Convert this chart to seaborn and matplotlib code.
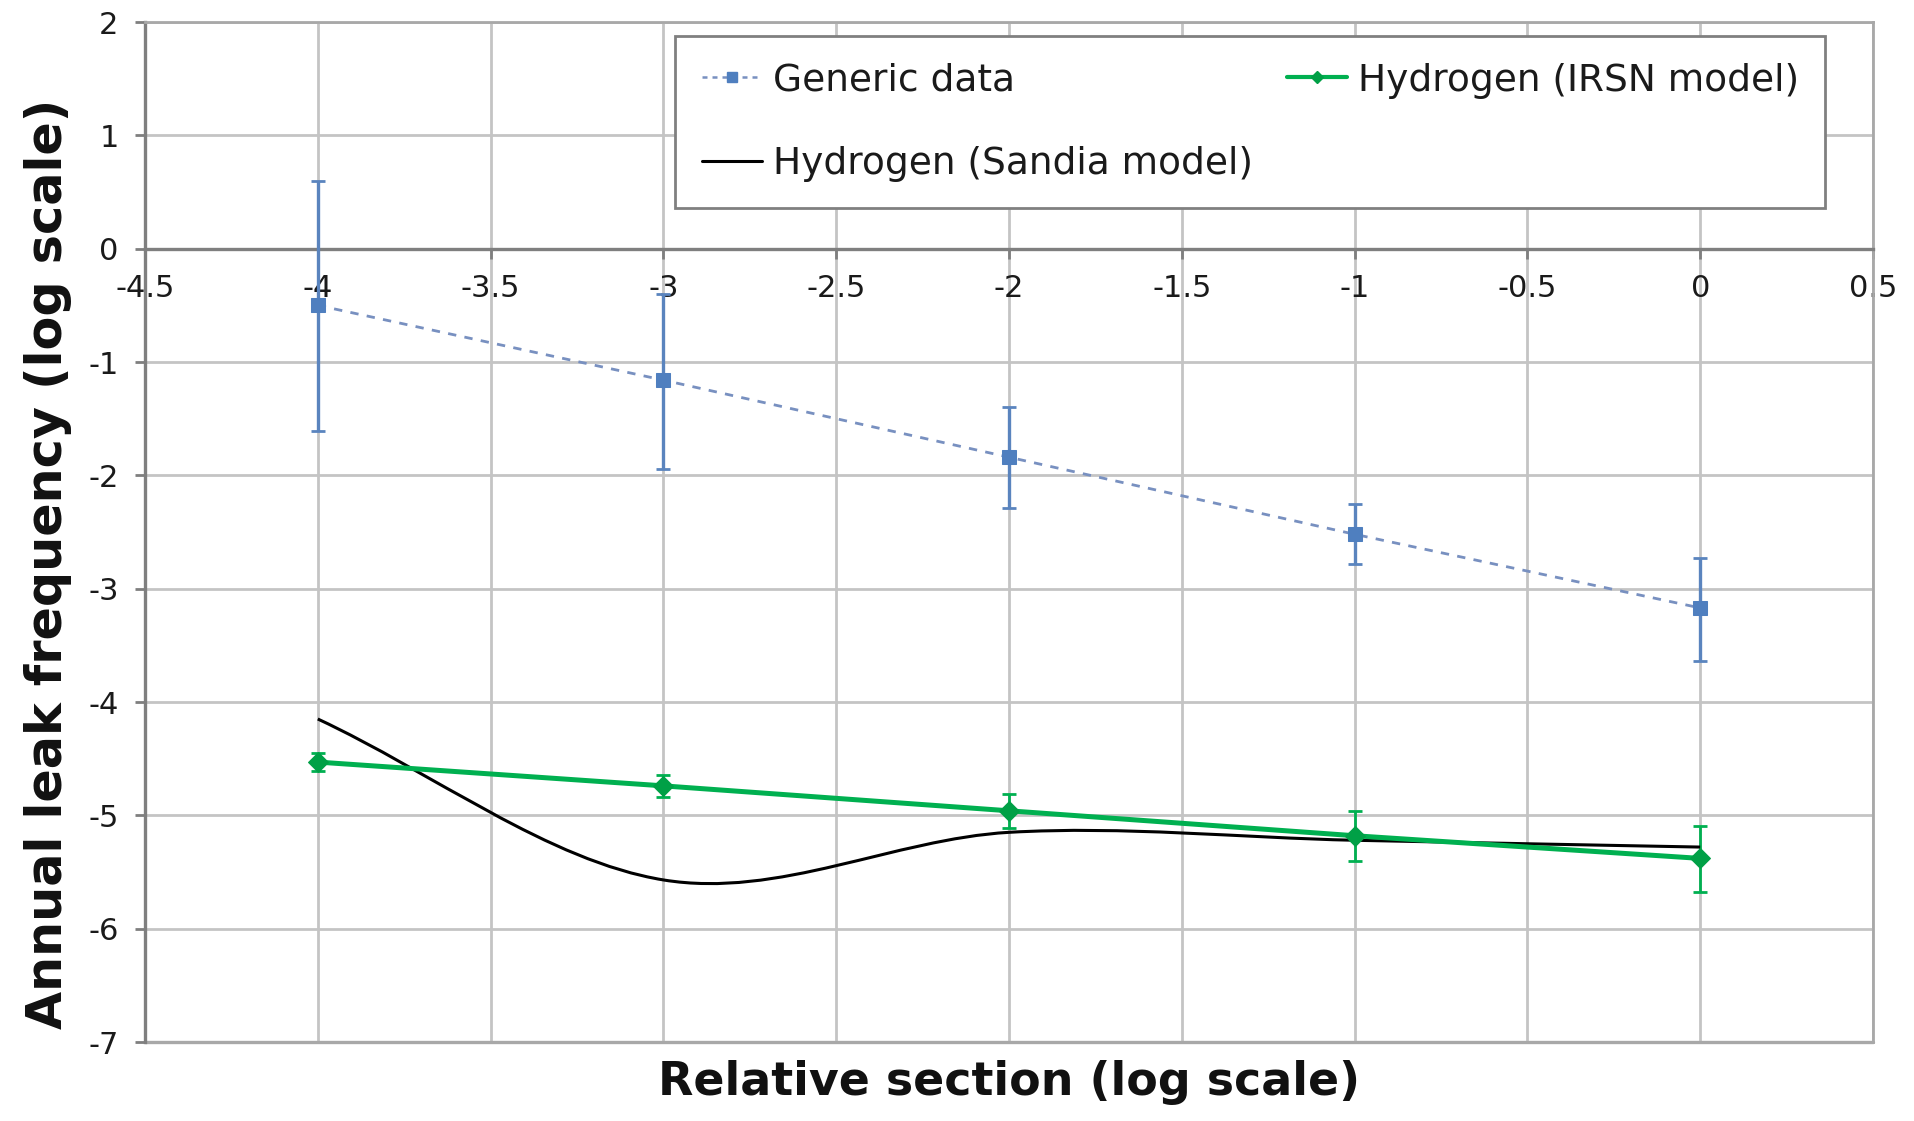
import numpy as np
import pandas as pd
import matplotlib
matplotlib.use("Agg")
import matplotlib.pyplot as plt
import seaborn as sns
from matplotlib.path import Path
from matplotlib.patches import PathPatch
from matplotlib.lines import Line2D

# ---------------- data ----------------
x_section = [-4, -3, -2, -1, 0]

generic_y = [-0.50, -1.16, -1.84, -2.52, -3.17]
generic_lo = [-1.61, -1.94, -2.29, -2.78, -3.64]
generic_hi = [0.60, -0.40, -1.40, -2.25, -2.73]

irsn_y = [-4.53, -4.74, -4.96, -5.18, -5.38]
irsn_lo = [-4.61, -4.84, -5.11, -5.40, -5.68]
irsn_hi = [-4.45, -4.64, -4.81, -4.96, -5.09]

sandia_y = [-4.15, -5.57, -5.15, -5.22, -5.28]

x_ticks = [-4.5, -4, -3.5, -3, -2.5, -2, -1.5, -1, -0.5, 0, 0.5]
x_ticklabels = ["-4.5", "-4", "-3.5", "-3", "-2.5", "-2", "-1.5", "-1", "-0.5", "0", "0.5"]
y_ticks = [2, 1, 0, -1, -2, -3, -4, -5, -6, -7]

labels = ["Generic data", "Hydrogen (IRSN model)", "Hydrogen (Sandia model)"]
x_label = "Relative section (log scale)"
y_label = "Annual leak frequency (log scale)"

# ---------------- style ----------------
sns.set_theme(style="white")
plt.rcParams["font.family"] = ["DejaVu Sans"]

blue = "#4F7FBF"
blue_err = "#5A84BE"
blue_line = "#7890C0"
green = "#00B050"
green_dark = "#00A046"
grid_c = "#C4C4C4"
axis_c = "#7F7F7F"

fig = plt.figure(figsize=(19.14, 11.21), dpi=100)
ax = fig.add_axes([145 / 1914, 1 - 1042 / 1121, 1728 / 1914, 1020 / 1121])

df_g = pd.DataFrame({"x": x_section, "y": generic_y})
df_i = pd.DataFrame({"x": x_section, "y": irsn_y})

# generic data
ax.errorbar(x_section, generic_y,
            yerr=[np.array(generic_y) - np.array(generic_lo),
                  np.array(generic_hi) - np.array(generic_y)],
            fmt="none", ecolor=blue_err, elinewidth=2.4, capsize=5, capthick=2.0, zorder=3)
sns.lineplot(data=df_g, x="x", y="y", ax=ax, color=blue_line, linestyle=(0, (3, 3)),
             linewidth=2.0, marker="s", markersize=10, markerfacecolor=blue,
             markeredgecolor=blue, legend=False, errorbar=None, zorder=4)

# IRSN model
ax.errorbar(x_section, irsn_y,
            yerr=[np.array(irsn_y) - np.array(irsn_lo),
                  np.array(irsn_hi) - np.array(irsn_y)],
            fmt="none", ecolor=green, elinewidth=2.0, capsize=5, capthick=2.0, zorder=3)
sns.lineplot(data=df_i, x="x", y="y", ax=ax, color=green, linewidth=3.6,
             marker="D", markersize=10, markerfacecolor=green_dark,
             markeredgecolor=green_dark, legend=False, errorbar=None, zorder=5)

# Sandia model: smoothed line (Catmull-Rom style Bezier through the data points)
px = np.array(x_section, dtype=float)
py = np.array(sandia_y, dtype=float)
n = len(px)
mx = np.zeros(n)
my = np.zeros(n)
for i in range(n):
    if i == 0:
        mx[i], my[i] = px[1] - px[0], py[1] - py[0]
    elif i == n - 1:
        mx[i], my[i] = px[-1] - px[-2], py[-1] - py[-2]
    else:
        mx[i], my[i] = (px[i + 1] - px[i - 1]) / 2, (py[i + 1] - py[i - 1]) / 2
verts = [(px[0], py[0])]
codes = [Path.MOVETO]
for i in range(n - 1):
    verts += [(px[i] + mx[i] / 3, py[i] + my[i] / 3),
              (px[i + 1] - mx[i + 1] / 3, py[i + 1] - my[i + 1] / 3),
              (px[i + 1], py[i + 1])]
    codes += [Path.CURVE4] * 3
ax.add_patch(PathPatch(Path(verts, codes), facecolor="none", edgecolor="black",
                       linewidth=2.2, zorder=4.5))

# ---------------- axes ----------------
ax.set_xlim(-4.5, 0.5)
ax.set_ylim(-7, 2)
ax.set_xticks(x_ticks)
ax.set_xticklabels(x_ticklabels)
ax.set_yticks(y_ticks)
ax.set_yticklabels([str(v) for v in y_ticks])

ax.grid(True, color=grid_c, linewidth=2.0)
ax.set_axisbelow(True)

ax.spines["bottom"].set_position(("data", 0))
for s in ["bottom", "left"]:
    ax.spines[s].set_color(axis_c)
    ax.spines[s].set_linewidth(2.4)
for s in ["top", "right"]:
    ax.spines[s].set_color("#A8A8A8")
    ax.spines[s].set_linewidth(2.0)
ax.axhline(-7, color="#A8A8A8", linewidth=2.4, clip_on=False, zorder=1)

ax.tick_params(axis="x", direction="out", length=7, width=2, color=axis_c,
               labelsize=22, pad=11, bottom=True, labelcolor="#1a1a1a")
ax.tick_params(axis="y", direction="out", length=7, width=2, color=axis_c,
               labelsize=22, pad=12, left=True, labelcolor="#1a1a1a")

ax.set_xlabel(x_label, fontsize=33, fontweight="bold", color="#111111")
ax.xaxis.set_label_coords(0.5, -0.018)
ax.set_ylabel(y_label, fontsize=35.5, fontweight="bold", color="#111111")
ax.yaxis.set_label_coords(-0.042, 0.469)

# ---------------- legend ----------------
h_generic = Line2D([], [], color=blue_line, linestyle=(0, (2, 2)), linewidth=1.8,
                   marker="s", markersize=7, markerfacecolor=blue, markeredgecolor=blue)
h_irsn = Line2D([], [], color=green, linewidth=3.0, marker="D", markersize=6,
                markerfacecolor=green_dark, markeredgecolor=green_dark)
h_sandia = Line2D([], [], color="black", linewidth=2.2)
leg = ax.legend([h_generic, h_sandia, h_irsn], [labels[0], labels[2], labels[1]],
                ncol=2, loc="upper left", bbox_to_anchor=(0.307, 0.986),
                borderaxespad=0, fontsize=27, handlelength=1.6, handletextpad=0.3,
                columnspacing=0.9, labelspacing=1.27, borderpad=0.7,
                frameon=True, fancybox=False, shadow=False, framealpha=1)
leg.get_frame().set_edgecolor("#808080")
leg.get_frame().set_linewidth(2.0)
for t in leg.get_texts():
    t.set_color("#1a1a1a")

fig.savefig("out.png", dpi=100, facecolor="white")
